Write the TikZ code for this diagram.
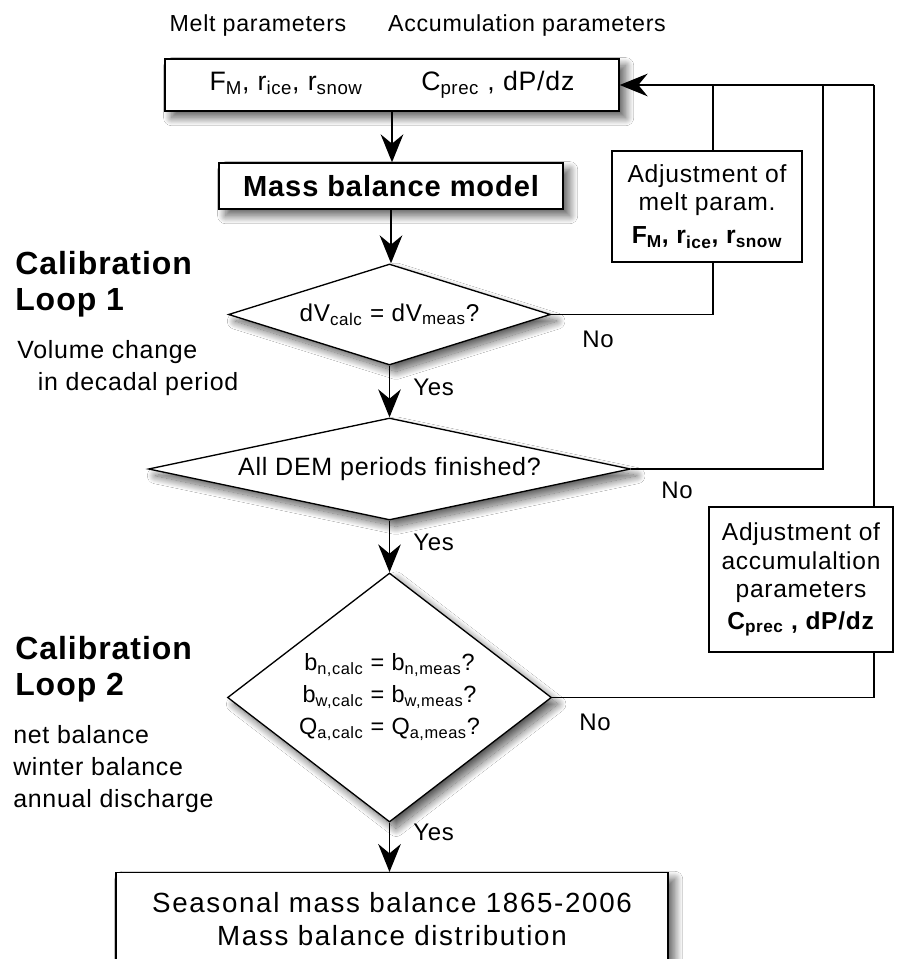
\documentclass[tikz,border=0pt]{standalone}
\usepackage{fontspec}
\setmainfont{Liberation Sans}[LetterSpace=3]
\usetikzlibrary{arrows.meta,shapes.geometric,shadows.blur}
\newdimen\pxu \pxu=0.75pt
\tikzset{
  box/.style={draw, line width=1pt, fill=white, inner sep=0pt, align=center},
  dia/.style={diamond, draw, line width=1pt, fill=white, inner sep=0pt, align=center},
  shd/.style={blur shadow={shadow xshift=5pt, shadow yshift=-5pt, shadow blur radius=6pt, shadow blur steps=30, shadow opacity=65}},
  flow/.style={line width=1.1pt, -{Stealth[length=21pt,width=17pt,inset=7pt]}},
  link/.style={line width=1.1pt},
  lbl/.style={anchor=base west, inner sep=0pt, font=\fontsize{18pt}{21pt}\selectfont},
  head/.style={anchor=base, inner sep=0pt, font=\fontsize{17.4pt}{20pt}\selectfont},
  side/.style={anchor=base west, inner sep=0pt, align=left, font=\fontsize{18.7pt}{24pt}\selectfont},
  title/.style={anchor=base west, inner sep=0pt, align=left, font=\bfseries\fontsize{24pt}{27pt}\selectfont},
}
\begin{document}
\begin{tikzpicture}[x=0.75pt,y=-0.75pt]
\clip (0,0) rectangle (896,959);
\fill[white] (0,0) rectangle (896,959);

% headers
\node[head] (hm) at (258,32) {Melt parameters};
\node[head] (ha) at (527,32) {Accumulation parameters};

% main column
\node[box,shd,minimum width=454\pxu,minimum height=52\pxu,font=\fontsize{20pt}{23pt}\selectfont] (top) at (392,85)
  {F\textsubscript{M}, r\textsubscript{ice}, r\textsubscript{snow}\hspace{44pt}C\textsubscript{prec} , dP/dz};
\node[box,shd,minimum width=344\pxu,minimum height=46\pxu,font=\bfseries\fontsize{21.8pt}{25pt}\selectfont] (mbm) at (391,186)
  {Mass balance model};
\node[dia,shd,aspect=3.2,minimum width=322\pxu,minimum height=101\pxu,font=\fontsize{18.2pt}{21pt}\selectfont] (d1) at (389.5,314.5)
  {dV\textsubscript{calc} = dV\textsubscript{meas}?};
\node[dia,shd,aspect=4.7,minimum width=482\pxu,minimum height=102\pxu,font=\fontsize{18.8pt}{21pt}\selectfont] (d2) at (389.5,469)
  {All DEM periods finished?};
\node[dia,shd,aspect=1.3,minimum width=324\pxu,minimum height=249\pxu,font=\fontsize{17.6pt}{24pt}\selectfont] (d3) at (389.5,697.5)
  {b\textsubscript{n,calc} = b\textsubscript{n,meas}?\\b\textsubscript{w,calc} = b\textsubscript{w,meas}?\\Q\textsubscript{a,calc} = Q\textsubscript{a,meas}?};
\node[box,shd,minimum width=552\pxu,minimum height=120\pxu,anchor=north] (fin) at (392,872) {};
\node[anchor=base, inner sep=0pt, align=center, font=\fontsize{20.8pt}{24.75pt}\selectfont\addfontfeature{LetterSpace=6}] (fint) at (392,945)
  {Seasonal mass balance 1865-2006\\Mass balance distribution};

% adjustment boxes
\node[box,minimum width=190\pxu,minimum height=111\pxu,font=\fontsize{18.5pt}{21pt}\selectfont] (adjm) at (707,206.5)
  {Adjustment of\\melt param.\\[4pt]\textbf{F\textsubscript{M}, r\textsubscript{ice}, r\textsubscript{snow}}};
\node[box,minimum width=184\pxu,minimum height=145\pxu,font=\fontsize{18.4pt}{21.5pt}\selectfont] (adja) at (801,579.5)
  {Adjustment of\\accumulaltion\\parameters\\[2pt]\textbf{C\textsubscript{prec} , dP/dz}};

% side texts (anchored at the baseline of their last line)
\node[title] (cal1) at (15,310) {Calibration\\Loop 1};
\node[side] (vol) at (17,390) {Volume change\\\hspace{15.5pt}in decadal period};
\node[title] (cal2) at (15,695) {Calibration\\Loop 2};
\node[side] (bal) at (13,807) {net balance\\winter balance\\annual discharge};

% main flow
\draw[flow] (top.south) -- (top.south |- mbm.north);
\draw[flow] (mbm.south) -- (mbm.south |- d1.north);
\draw[flow] (d1.south) -- (d2.north);
\draw[flow] (d2.south) -- (d3.north);
\draw[flow] (d3.south) -- (d3.south |- fin.north);
\node[lbl] (y1) at (413,395) {Yes};
\node[lbl] (y2) at (413,550) {Yes};
\node[lbl] (y3) at (413,840) {Yes};

% loops
\coordinate (mb) at (713,262);
\coordinate (mt) at (713,151);
\coordinate (r2) at (823,85);
\coordinate (ab) at (874,652);
\coordinate (at) at (874,507);
\coordinate (r3) at (874,85);
\draw[link] (d1.east) -| (mb);
\draw[link] (mt) -- (mt |- top.east);
\draw[link] (d2.east) -| (r2);
\draw[link] (d3.east) -| (ab);
\draw[link] (at) -- (r3);
\draw[flow] (r3) -- (top.east);
\node[lbl] (n1) at (582,347) {No};
\node[lbl] (n2) at (661,498) {No};
\node[lbl] (n3) at (579,730) {No};
\end{tikzpicture}
\end{document}
